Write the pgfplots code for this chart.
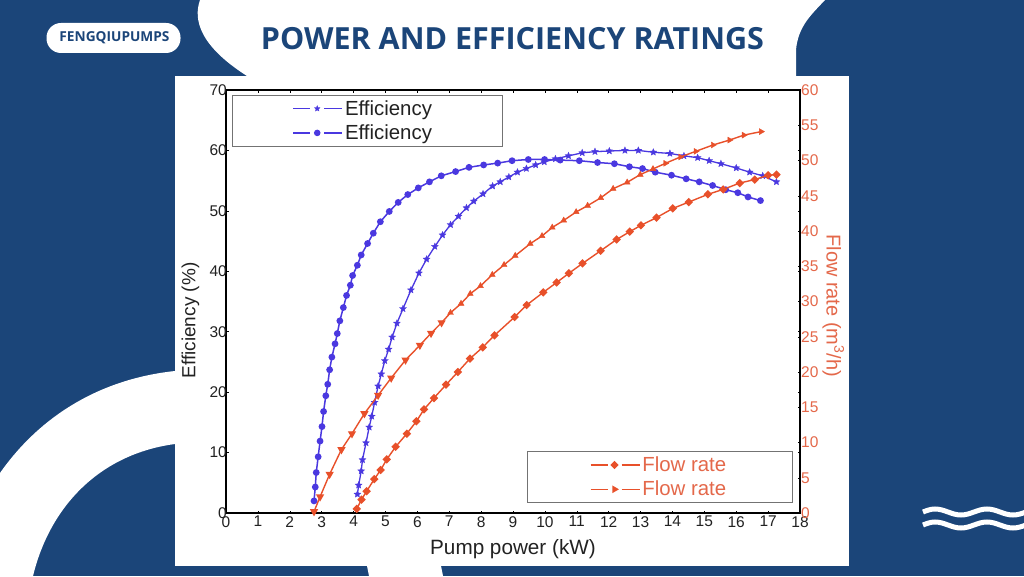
\documentclass[border=0pt]{standalone}
\usepackage{fontspec}
\usepackage{pgfplots}
\usepackage{pgfplotstable}
\pgfplotsset{compat=1.18}
\setmainfont{Liberation Sans}
\newfontfamily\brandfont{Open Sans}

\definecolor{bgblue}{HTML}{1B4579}
\definecolor{effblue}{HTML}{4A38E0}
\definecolor{flowred}{HTML}{E8502A}
\definecolor{flowtext}{HTML}{E4684A}
\definecolor{inkgray}{HTML}{222222}

% filled five pointed star
\pgfdeclareplotmark{fstar}{%
  \pgfpathmoveto{\pgfqpointpolar{90}{\pgfplotmarksize}}%
  \pgfpathlineto{\pgfqpointpolar{126}{0.45\pgfplotmarksize}}%
  \pgfpathlineto{\pgfqpointpolar{162}{\pgfplotmarksize}}%
  \pgfpathlineto{\pgfqpointpolar{198}{0.45\pgfplotmarksize}}%
  \pgfpathlineto{\pgfqpointpolar{234}{\pgfplotmarksize}}%
  \pgfpathlineto{\pgfqpointpolar{270}{0.45\pgfplotmarksize}}%
  \pgfpathlineto{\pgfqpointpolar{306}{\pgfplotmarksize}}%
  \pgfpathlineto{\pgfqpointpolar{342}{0.45\pgfplotmarksize}}%
  \pgfpathlineto{\pgfqpointpolar{18}{\pgfplotmarksize}}%
  \pgfpathlineto{\pgfqpointpolar{54}{0.45\pgfplotmarksize}}%
  \pgfpathclose
  \pgfusepathqfillstroke
}

\pgfplotstableread{
4.12 3.1
4.16 4.6
4.24 6.95
4.28 8.8
4.39 11.6
4.49 14.2
4.57 16.0
4.66 18.3
4.77 21.0
4.87 23.0
4.98 25.2
5.10 27.1
5.21 29.1
5.36 31.4
5.55 33.8
5.80 36.9
6.05 39.7
6.29 42.0
6.55 44.1
6.79 46.0
7.04 47.7
7.29 49.1
7.54 50.5
7.77 51.6
8.06 52.8
8.36 54.1
8.60 54.8
8.87 55.6
9.14 56.4
9.42 57.0
9.71 57.6
9.98 58.1
10.33 58.6
10.74 59.1
11.17 59.6
11.57 59.8
12.02 59.9
12.51 60.0
12.93 60.0
13.40 59.7
13.92 59.5
14.36 59.1
14.79 58.8
15.15 58.3
15.52 57.8
16.00 57.1
16.42 56.4
16.83 55.8
17.26 54.8
}\effstar

\pgfplotstableread{
2.76 2.0
2.80 4.3
2.83 6.7
2.89 9.3
2.95 11.9
3.01 14.3
3.06 16.8
3.13 19.4
3.19 21.3
3.25 23.7
3.32 25.8
3.42 28.0
3.49 29.7
3.57 31.8
3.68 34.0
3.78 36.0
3.90 37.7
3.97 39.3
4.12 41.0
4.24 42.7
4.44 44.6
4.62 46.3
4.84 48.2
5.12 49.9
5.40 51.4
5.70 52.7
6.03 53.8
6.38 54.8
6.75 55.8
7.20 56.5
7.62 57.2
8.08 57.6
8.52 57.9
8.97 58.3
9.48 58.5
9.99 58.5
10.48 58.4
11.08 58.3
11.65 58.0
12.18 57.8
12.65 57.3
13.06 57.0
13.46 56.4
13.97 55.9
14.43 55.3
14.84 54.8
15.26 54.2
15.67 53.5
16.05 53.0
16.37 52.3
16.76 51.7
}\effdot

\pgfplotstableread{
4.10 0.6
4.25 1.9
4.41 3.1
4.65 4.8
4.85 6.1
5.04 7.6
5.32 9.4
5.67 11.25
5.97 13.0
6.21 14.7
6.52 16.3
6.90 18.2
7.27 20.0
7.65 21.9
8.05 23.5
8.42 25.2
9.05 27.8
9.43 29.5
9.95 31.3
10.37 32.7
10.75 34.0
11.18 35.4
11.75 37.2
12.25 38.8
12.66 39.9
13.01 40.8
13.50 41.9
14.01 43.2
14.51 44.1
15.11 45.2
15.59 45.9
16.11 46.8
16.58 47.3
17.00 47.9
17.26 48.0
}\flowdia

\pgfplotstableread{
2.76 0.2
2.95 2.3
3.25 5.5
3.62 9.0
3.95 11.25
4.34 14.1
4.77 16.7
5.18 19.15
5.63 21.7
6.08 23.8
6.43 25.5
6.76 27.0
7.04 28.4
7.37 29.7
7.66 31.1
7.98 32.2
8.35 33.8
8.72 35.2
9.07 36.5
9.54 38.2
9.91 39.3
10.23 40.5
10.59 41.5
10.98 42.7
11.34 43.6
11.75 44.7
12.14 46.0
12.58 46.9
12.99 48.0
13.39 48.8
13.78 49.6
14.25 50.5
14.73 51.3
15.27 52.2
15.79 52.9
16.24 53.6
16.78 54.1
}\flowtri

\pgfplotsset{
  gapline/.style={legend image code/.code={%
    \draw[##1, line width=1.6pt] (0pt,0pt) -- (17pt,0pt) (31pt,0pt) -- (49pt,0pt);
    \draw[##1] plot coordinates {(24pt,0pt)};
  }},
  effline/.style={effblue, line width=1.3pt, solid},
  flowline/.style={flowred, line width=1.4pt, solid},
  panelaxis/.style={
    scale only axis, width=574pt, height=423pt,
    at={(226pt,63pt)}, anchor=south west,
    xmin=0, xmax=18, clip=false,
    /pgf/number format/assume math mode=true,
    gapline,
    legend cell align=left,
    legend style={draw=gray!90!black, line width=0.8pt, fill=white,
      inner xsep=60pt, inner ysep=3pt, row sep=4pt,
      font=\fontsize{20.4}{24}\selectfont},
  },
}

\begin{document}
\begin{tikzpicture}[x=1pt,y=1pt]
\path[use as bounding box, fill=bgblue] (0,0) rectangle (1024,576);
% white shapes behind the chart
\fill[white] (200,576) .. controls (193,556) and (200,530) .. (247,500) -- (796,500)
  -- (796,526) .. controls (798,550) and (812,562) .. (825,576) -- cycle;
\fill[white] (0,103) .. controls (40,160) and (100,197) .. (175,205) -- (175,132)
  .. controls (100,122) and (50,70) .. (33,0) -- (0,0) -- cycle;
\fill[white] (367,10) -- (441,10) -- (443,0) -- (369,0) -- cycle;
\fill[white] (175,10) rectangle (849,500);
% header
\fill[white, rounded corners=14.5pt] (46.5,523) rectangle (180.5,553);
\node[text=bgblue, font=\brandfont\bfseries\fontsize{13.7}{15}\selectfont] at (114.5,538) {FENGQIUPUMPS};
\node[text=bgblue, font=\brandfont\bfseries\fontsize{30.5}{34}\selectfont] at (512.5,537) {POWER AND EFFICIENCY RATINGS};
% waves
\foreach \yy in {64,51} {
  \draw[white, line width=5pt] (923,\yy) sin (935,\yy+3) cos (948,\yy) sin (961,\yy-3) cos (974,\yy)
    sin (987,\yy+3) cos (1000,\yy) sin (1013,\yy-3) cos (1026,\yy);
}
\clip (0,0) rectangle (1024,576);

\begin{axis}[
  panelaxis,
  ymin=0, ymax=70,
  axis line style={black, line width=1.5pt},
  xtick={0,1,...,18}, ytick={0,10,...,70},
  tick align=inside, major tick length=2.5pt,
  tick style={black, line width=0.5pt},
  ticklabel style={text=inkgray, font=\fontsize{15.5}{18}\selectfont},
  xticklabel style={inner sep=0pt, yshift=-3pt},
  yticklabel style={inner sep=0pt, xshift=1pt},
  xlabel={Pump power (kW)},
  ylabel={Efficiency (\%)},
  every axis x label/.style={at={(axis description cs:0.5,-0.0845)}, anchor=center,
    font=\fontsize{20.7}{24}\selectfont, text=inkgray},
  every axis y label/.style={at={(axis description cs:-0.062,0.455)}, anchor=center, rotate=90,
    font=\fontsize{19}{24}\selectfont, text=inkgray},
  legend style={at={(axis description cs:0.0105,0.988)}, anchor=north west},
]
\addplot[effline, mark=fstar, mark size=3.6pt, mark options={solid, fill=effblue, line width=0.3pt}, forget plot] table {\effstar};
\addplot[effline, line width=1.5pt, mark=*, mark size=2.6pt, mark options={solid, fill=effblue}, forget plot] table {\effdot};
\addlegendimage{effline, mark=fstar, mark size=3pt, mark options={solid, fill=effblue, line width=0.3pt}}
\addlegendentry{\textcolor{inkgray}{Efficiency\hspace{8pt}}}
\addlegendimage{effline, mark=*, mark size=2.6pt, mark options={solid, fill=effblue}}
\addlegendentry{\textcolor{inkgray}{Efficiency\hspace{8pt}}}
\end{axis}

\begin{axis}[
  panelaxis,
  axis x line=none,
  axis y line*=right,
  ymin=0, ymax=60,
  ytick={0,5,...,60},
  axis line style={black, line width=1.5pt},
  tick align=inside, major tick length=2.5pt,
  tick style={black, line width=0.5pt},
  yticklabel style={inner sep=0pt, xshift=1pt, text=flowtext, font=\fontsize{15.5}{18}\selectfont},
  ylabel={Flow rate (m\textsuperscript{3}/h)},
  every axis y label/.style={at={(axis description cs:1.058,0.49)}, anchor=center, rotate=-90,
    font=\fontsize{20}{24}\selectfont, text=flowtext},
  legend style={at={(axis description cs:0.525,0.024)}, anchor=south west, inner xsep=62pt},
]
\addplot[flowline, mark=square*, mark size=2.3pt, mark options={solid, fill=flowred, rotate=45}, forget plot] table {\flowdia};
\addplot[flowline, mark=triangle*, mark size=3.4pt, mark options={solid, fill=flowred, rotate=180}, mark indices={1,...,12}, forget plot] table {\flowtri};
\addplot[only marks, flowred, mark=triangle*, mark size=3.4pt, mark options={solid, fill=flowred}, mark indices={13,...,30}, forget plot] table {\flowtri};
\addplot[only marks, flowred, mark=triangle*, mark size=3.4pt, mark options={solid, fill=flowred, rotate=-90}, mark indices={31,...,37}, forget plot] table {\flowtri};
\addlegendimage{flowline, mark=square*, mark size=2.2pt, mark options={solid, fill=flowred, rotate=45}}
\addlegendentry{\textcolor{flowtext}{Flow rate\hspace{2pt}}}
\addlegendimage{flowline, mark=triangle*, mark size=3pt, mark options={solid, fill=flowred, rotate=-90}}
\addlegendentry{\textcolor{flowtext}{Flow rate\hspace{2pt}}}
\end{axis}
\end{tikzpicture}
\end{document}
